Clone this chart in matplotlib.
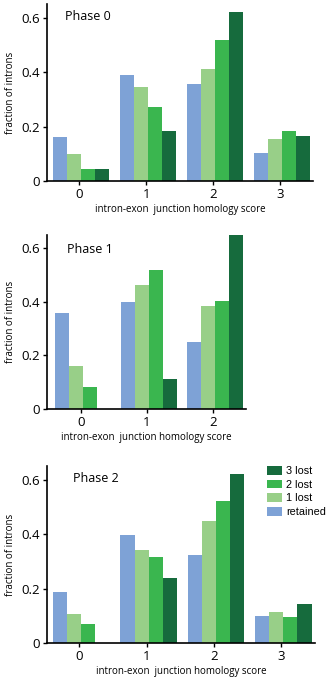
import matplotlib
matplotlib.use("Agg")
import matplotlib.pyplot as plt
import numpy as np

series = ["retained", "1 lost", "2 lost", "3 lost"]
colors = ["#7ea2d6", "#98cf88", "#3ab64f", "#166b3d"]

phase0_scores = [0, 1, 2, 3]
phase0 = {
    "retained": [0.163, 0.389, 0.358, 0.103],
    "1 lost":   [0.099, 0.346, 0.412, 0.156],
    "2 lost":   [0.043, 0.272, 0.518, 0.183],
    "3 lost":   [0.043, 0.185, 0.620, 0.166],
}
phase1_scores = [0, 1, 2]
phase1 = {
    "retained": [0.359, 0.399, 0.250],
    "1 lost":   [0.161, 0.462, 0.385],
    "2 lost":   [0.082, 0.521, 0.404],
    "3 lost":   [0.0, 0.112, 0.66],
}
phase2_scores = [0, 1, 2, 3]
phase2 = {
    "retained": [0.187, 0.396, 0.323, 0.099],
    "1 lost":   [0.106, 0.341, 0.448, 0.113],
    "2 lost":   [0.071, 0.317, 0.523, 0.096],
    "3 lost":   [0.0, 0.240, 0.621, 0.144],
}
titles = ["Phase 0", "Phase 1", "Phase 2"]
xlabel = "intron-exon  junction homology score"
ylabel = "fraction of introns"
yticks = [0, 0.2, 0.4, 0.6]
ytick_labels = ["0", "0.2", "0.4", "0.6"]

plt.rcParams["font.family"] = ["Open Sans", "DejaVu Sans"]

W, H = 328, 680
fig = plt.figure(figsize=(W / 100, H / 100), dpi=100)

# panel rectangles in pixel coords: left, right, top, bottom
rects = [(47, 313, 4, 181), (47, 246, 235, 409), (47, 315, 466, 643)]
datas = [(phase0_scores, phase0), (phase1_scores, phase1), (phase2_scores, phase2)]
xlims = [(-0.48, 3.49), (-0.51, 2.5), (-0.48, 3.5)]
title_pos = [(0.068, 0.928), (0.10, 0.914), (0.096, 0.927)]

bw = 0.21
for i, ((l, r, t, b), (scores, data)) in enumerate(zip(rects, datas)):
    ax = fig.add_axes([l / W, 1 - b / H, (r - l) / W, (b - t) / H])
    x = np.array(scores, dtype=float)
    handles = []
    for j, s in enumerate(series):
        h = ax.bar(x + (j - 1.5) * bw + 0.03, data[s], width=bw, color=colors[j],
                   edgecolor="none", label=s)
        handles.append(h)
    ax.set_xlim(*xlims[i])
    ax.set_ylim(0, 0.65)
    ax.set_xticks(scores)
    ax.set_xticklabels([str(s) for s in scores], fontsize=9.5)
    ax.set_yticks(yticks)
    ax.set_yticklabels(ytick_labels, fontsize=9.5)
    ax.spines["top"].set_visible(False)
    ax.spines["right"].set_visible(False)
    ax.spines["left"].set_linewidth(1.2)
    ax.spines["bottom"].set_linewidth(1.2)
    ax.tick_params(axis="both", length=3, width=1.0, pad=2)
    ax.set_xlabel(xlabel, fontsize=7, labelpad=2)
    ax.set_ylabel(ylabel, fontsize=7, labelpad=4)
    ax.text(title_pos[i][0], title_pos[i][1], titles[i], transform=ax.transAxes,
            fontsize=9, va="center", ha="left")
    if i == 2:
        leg = ax.legend(handles[::-1], series[::-1], loc="upper left",
                        bbox_to_anchor=((267 - l) / (r - l), 1.0), frameon=False,
                        prop={"family": "Liberation Sans", "size": 7.8},
                        handlelength=1.4, handleheight=0.85, handletextpad=0.35,
                        labelspacing=0.33, borderaxespad=0.0, borderpad=0.0)

fig.savefig("out.png", dpi=100)
